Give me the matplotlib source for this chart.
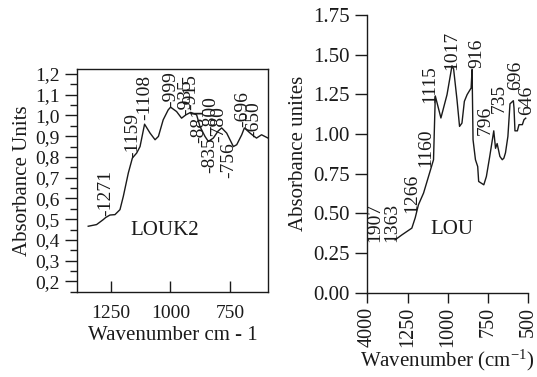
import numpy as np
import matplotlib
matplotlib.use("Agg")
import matplotlib.pyplot as plt
from matplotlib.ticker import MultipleLocator, FuncFormatter

plt.rcParams["font.family"] = ["Liberation Serif", "DejaVu Serif"]
plt.rcParams["mathtext.fontset"] = "custom"
plt.rcParams["mathtext.rm"] = "Liberation Serif"
plt.rcParams["mathtext.it"] = "Liberation Serif:italic"

# ---- LOUK2 spectrum ----
louk2_wn = [1344, 1309, 1281, 1271, 1253, 1232, 1211, 1197, 1176, 1159, 1141,
            1127, 1108, 1085, 1064, 1050, 1030, 1009, 999, 974, 953, 935, 915,
            890, 876, 855, 841, 820, 800, 785, 764, 736, 722, 701, 690, 666,
            650, 639, 618, 591]
louk2_abs = [0.466, 0.474, 0.498, 0.508, 0.520, 0.522, 0.546, 0.610, 0.723, 0.795,
             0.819, 0.850, 0.958, 0.915, 0.883, 0.899, 0.979, 1.027, 1.040, 1.019,
             0.987, 1.003, 1.015, 1.003, 0.947, 0.899, 0.875, 0.891, 0.925, 0.940,
             0.915, 0.850, 0.859, 0.907, 0.940, 0.915, 0.900, 0.891, 0.907, 0.891]
louk2_peaks = ["-1271", "-1159", "-1108", "-999", "-935", "-915", "-881",
               "-835", "-800", "-780", "-756", "-696", "-650"]
louk2_peak_wn = [1271, 1159, 1108, 999, 935, 915, 881, 835, 830, 796, 756, 696, 650]
louk2_peak_y = [0.514, 0.795, 0.979, 1.043, 1.003, 1.025, 0.868, 0.724, 0.92,
                0.873, 0.70, 0.945, 0.897]
louk2_yticks = [0.2, 0.3, 0.4, 0.5, 0.6, 0.7, 0.8, 0.9, 1.0, 1.1, 1.2]
louk2_xticks = [1250, 1000, 750]

# ---- LOU spectrum ----
lou_wn = [2102, 1652, 1225, 1204, 1184, 1152, 1090, 1079, 1044, 1006, 975, 965,
          944, 928, 913, 898, 881, 856, 850, 844, 829, 815, 809, 777, 761, 740,
          715, 704, 694, 677, 662, 652, 642, 627, 614, 593, 589, 583, 568, 558,
          537, 527, 516]
lou_abs = [0.333, 0.364, 0.407, 0.472, 0.554, 0.628, 0.838, 1.240, 1.101, 1.248,
           1.430, 1.410, 1.217, 1.048, 1.069, 1.206, 1.248, 1.290, 1.406, 0.964,
           0.838, 0.795, 0.701, 0.680, 0.732, 0.859, 1.020, 0.910, 0.940, 0.859,
           0.838, 0.848, 0.882, 0.985, 1.190, 1.210, 1.164, 1.020, 1.020, 1.059,
           1.059, 1.090, 1.100]
lou_peaks = ["1907", "1363", "1266", "1160", "1115", "1017", "916", "796",
             "735", "696", "646"]
lou_peak_wn = [3443, 2303, 1223, 1136, 1111, 975, 823, 767, 679, 579, 508]
lou_peak_y = [0.32, 0.32, 0.503, 0.795, 1.197, 1.406, 1.418, 0.996, 1.134,
              1.28, 1.12]
lou_yticks = [0.0, 0.25, 0.5, 0.75, 1.0, 1.25, 1.5, 1.75]
lou_xticks = [4000, 1250, 1000, 750, 500]

ink = "#1a1a1a"
fig = plt.figure(figsize=(5.37, 3.77), dpi=100)

# ---------------- left panel ----------------
ax1 = fig.add_axes([77 / 537, 1 - 292 / 377, 191 / 537, 223 / 377])
ax1.plot(louk2_wn, louk2_abs, color=ink, lw=1.0)
ax1.set_xlim(1391, 591)
ax1.set_ylim(0.149, 1.224)
ax1.set_yticks(louk2_yticks)
ax1.yaxis.set_major_formatter(FuncFormatter(lambda v, p: f"{v:.1f}".replace(".", ",")))
ax1.yaxis.set_minor_locator(MultipleLocator(0.05))
ax1.set_xticks(louk2_xticks)
ax1.tick_params(axis="y", which="major", direction="out", length=8.5, width=1,
                labelsize=14, pad=4, colors=ink)
ax1.tick_params(axis="y", which="minor", direction="out", length=5, width=1, colors=ink)
ax1.tick_params(axis="x", which="major", direction="in", length=8, width=1,
                labelsize=14, pad=9, colors=ink)
for s in ax1.spines.values():
    s.set_linewidth(1.0)
    s.set_color(ink)
ax1.set_ylabel("Absorbance Units", fontsize=15, color=ink, labelpad=2)
ax1.set_xlabel("Wavenumber cm - 1", fontsize=15, color=ink, labelpad=3)
for t, x, y in zip(louk2_peaks, louk2_peak_wn, louk2_peak_y):
    ax1.text(x, y, t, rotation=90, ha="center", va="bottom", fontsize=14,
             color=ink)
ax1.text(0.461, 0.278, "LOUK2", transform=ax1.transAxes, ha="center",
         va="center", fontsize=15, color=ink)

# ---------------- right panel ----------------
# wavenumbers above 1250 are compressed onto a short leading segment
knots_wn = [500, 1250, 4000]
knots_u = [500, 1250, 1506]


def fwd(x):
    return np.interp(x, knots_wn, knots_u)


def inv(u):
    return np.interp(u, knots_u, knots_wn)


ax2 = fig.add_axes([366.7 / 537, 1 - 292.7 / 377, 161.6 / 537, 277.7 / 377])
ax2.set_xscale("function", functions=(fwd, inv))
ax2.plot(lou_wn, lou_abs, color=ink, lw=1.0)
ax2.set_xlim(4000, 500)
ax2.set_ylim(0, 1.75)
ax2.set_xticks(lou_xticks)
ax2.set_xticklabels([str(v) for v in lou_xticks], rotation=90)
ax2.xaxis.set_minor_locator(plt.NullLocator())
ax2.set_yticks(lou_yticks)
ax2.yaxis.set_major_formatter(FuncFormatter(lambda v, p: f"{v:.2f}"))
ax2.spines["top"].set_visible(False)
ax2.spines["right"].set_visible(False)
for s in ("left", "bottom"):
    ax2.spines[s].set_linewidth(1.0)
    ax2.spines[s].set_color(ink)
ax2.tick_params(axis="y", direction="out", length=9, width=1, labelsize=15,
                pad=3, colors=ink)
ax2.tick_params(axis="x", direction="out", length=7, width=1, labelsize=14.5,
                pad=3, colors=ink)
ax2.set_ylabel("Absorbance unites", fontsize=15, color=ink, labelpad=4)
ax2.set_xlabel("Wavenumber (cm$^{\\mathregular{-1}}$)", fontsize=15, color=ink,
               labelpad=1)
for t, x, y in zip(lou_peaks, lou_peak_wn, lou_peak_y):
    ax2.text(x, y, t, rotation=90, ha="center", va="bottom", fontsize=14,
             color=ink)
ax2.text(0.526, 0.226, "LOU", transform=ax2.transAxes, ha="center",
         va="center", fontsize=15, color=ink)

fig.savefig("out.png", dpi=100)
